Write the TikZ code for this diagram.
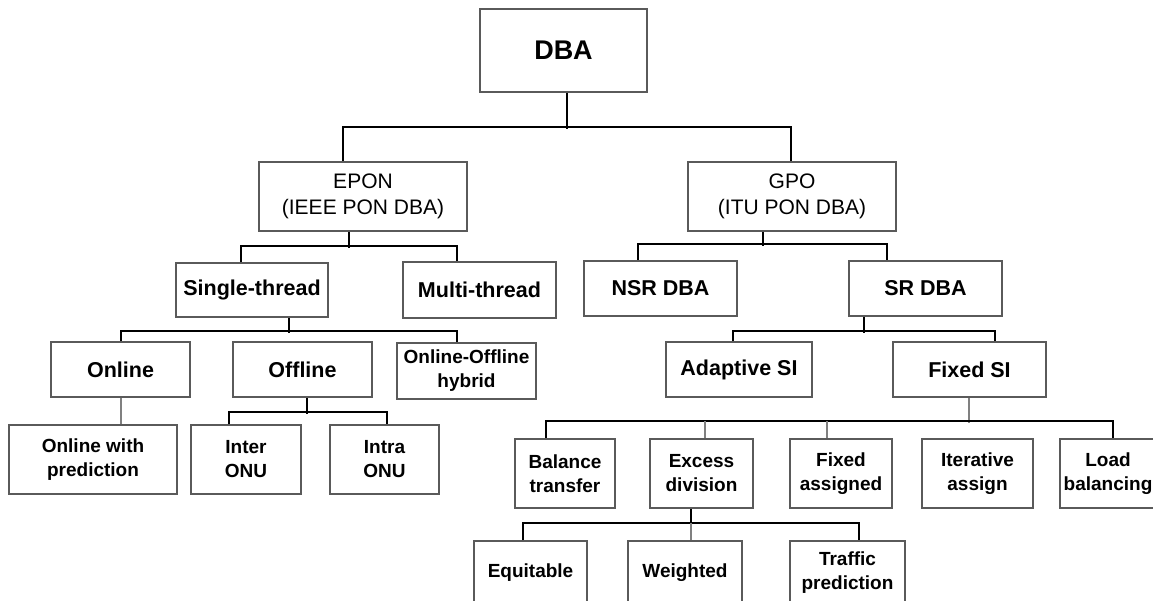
\documentclass[tikz,border=0pt]{standalone}
\usepackage{fontspec}
\setmainfont{Liberation Sans}
\definecolor{boxline}{RGB}{90,90,90}
\definecolor{tickline}{RGB}{128,128,128}
\begin{document}
\begin{tikzpicture}[x=1pt,y=-1pt,
  box/.style={draw=boxline,line width=2,rectangle,inner sep=0pt,align=center,text=black},
  rootbox/.style={box,font=\bfseries\fontsize{27}{32}\selectfont},
  netbox/.style={box,font=\fontsize{21}{26}\selectfont},
  midbox/.style={box,font=\bfseries\fontsize{21.5}{26}\selectfont},
  leafbox/.style={box,font=\bfseries\fontsize{19}{24}\selectfont},
  conn/.style={draw=black,line width=2.2},
  faint/.style={draw=tickline,line width=1.4}]
\clip (0,0) rectangle (1153,601);
\fill[white] (0,0) rectangle (1153,601);

% root
\node[rootbox,minimum width=167,minimum height=83] (dba) at (563.5,50.5) {DBA};

% standards
\node[netbox,minimum width=208,minimum height=69] (epon) at (363,196.5) {EPON\\(IEEE PON DBA)};
\node[netbox,minimum width=208,minimum height=69] (gpo) at (792,196.5) {GPO\\(ITU PON DBA)};

% EPON branch
\node[midbox,minimum width=152,minimum height=54] (single) at (252,290) {Single-thread};
\node[midbox,minimum width=153,minimum height=56] (multi) at (479.5,290) {Multi-thread};
\node[midbox,minimum width=139,minimum height=55] (online) at (120.5,369.5) {Online};
\node[midbox,minimum width=139,minimum height=55] (offline) at (302.5,369.5) {Offline};
\node[leafbox,minimum width=139,minimum height=56] (hybrid) at (466.5,371) {Online-Offline\\hybrid};
\node[leafbox,minimum width=168,minimum height=69] (onpred) at (93,459.5) {Online with\\prediction};
\node[leafbox,minimum width=110,minimum height=69] (inter) at (246,459.5) {Inter\\ONU};
\node[leafbox,minimum width=109,minimum height=69] (intra) at (384.5,459.5) {Intra\\ONU};

% GPON branch
\node[midbox,minimum width=153,minimum height=55] (nsr) at (660.5,288.5) {NSR DBA};
\node[midbox,minimum width=153,minimum height=55] (sr) at (925.5,288.5) {SR DBA};
\node[midbox,minimum width=146,minimum height=55] (adaptive) at (739,369.5) {Adaptive SI};
\node[midbox,minimum width=153,minimum height=55] (fixedsi) at (969.5,369.5) {Fixed SI};
\node[leafbox,minimum width=100,minimum height=69] (balance) at (565,473.5) {Balance\\transfer};
\node[leafbox,minimum width=103,minimum height=69] (excess) at (701.5,473.5) {Excess\\division};
\node[leafbox,minimum width=102,minimum height=69] (fixedas) at (841,473.5) {Fixed\\assigned};
\node[leafbox,minimum width=111,minimum height=69] (iter) at (977.5,473.5) {Iterative\\assign};
\node[leafbox,minimum width=96,minimum height=69] (load) at (1108,473.5) {Load\\balancing};
\node[leafbox,minimum width=113,minimum height=63] (equit) at (530.5,572.5) {Equitable};
\node[leafbox,minimum width=114,minimum height=63] (weighted) at (685,572.5) {Weighted};
\node[leafbox,minimum width=115,minimum height=63] (traffic) at (847.5,572.5) {Traffic\\prediction};

% DBA -> EPON / GPO
\draw[conn] ([xshift=3.5]dba.south) -- ++(0,36);
\draw[conn] ([xshift=-20]epon.north) -- ++(0,-34) -| ([xshift=-1]gpo.north);

% EPON -> thread types
\draw[conn] ([xshift=-14]epon.south) -- ++(0,16);
\draw[conn] ([xshift=-11]single.north) -- ++(0,-16) -| ([xshift=-22.5]multi.north);

% GPO -> NSR / SR
\draw[conn] ([xshift=-29]gpo.south) -- ++(0,14);
\draw[conn] ([xshift=-22.5]nsr.north) -- ++(0,-16) -| ([xshift=-38.5]sr.north);

% Single-thread -> online / offline / hybrid
\draw[conn] ([xshift=37]single.south) -- ++(0,15);
\draw[conn] ([xshift=0.5]online.north) -- ++(0,-10) -| ([xshift=-9.5]hybrid.north);

% Online -> prediction
\draw[faint] ([xshift=0.5]online.south) -- ([xshift=28]onpred.north);

% Offline -> inter / intra
\draw[conn] ([xshift=4.5]offline.south) -- ++(0,16);
\draw[conn] ([xshift=-17]inter.north) -- ++(0,-12) -| ([xshift=2.5]intra.north);

% SR DBA -> adaptive / fixed SI
\draw[conn] ([xshift=-61.5]sr.south) -- ++(0,16);
\draw[conn] ([xshift=-6]adaptive.north) -- ++(0,-10) -| ([xshift=25.5]fixedsi.north);

% Fixed SI -> schemes
\draw[faint] ([xshift=-0.5]fixedsi.south) -- ++(0,25);
\draw[conn] ([xshift=-19]balance.north) -- ++(0,-17) -| ([xshift=5]load.north);
\draw[faint] ([xshift=3.5]excess.north) -- ++(0,-17);
\draw[faint] ([xshift=-14]fixedas.north) -- ++(0,-17);

% Excess division -> sharing rules
\draw[conn] ([xshift=-10.5]excess.south) -- ++(0,16);
\draw[conn] ([xshift=-7.5]equit.north) -- ++(0,-17) -| ([xshift=11.5]traffic.north);
\draw[faint] ([xshift=6]weighted.north) -- ++(0,-17);
\end{tikzpicture}
\end{document}
